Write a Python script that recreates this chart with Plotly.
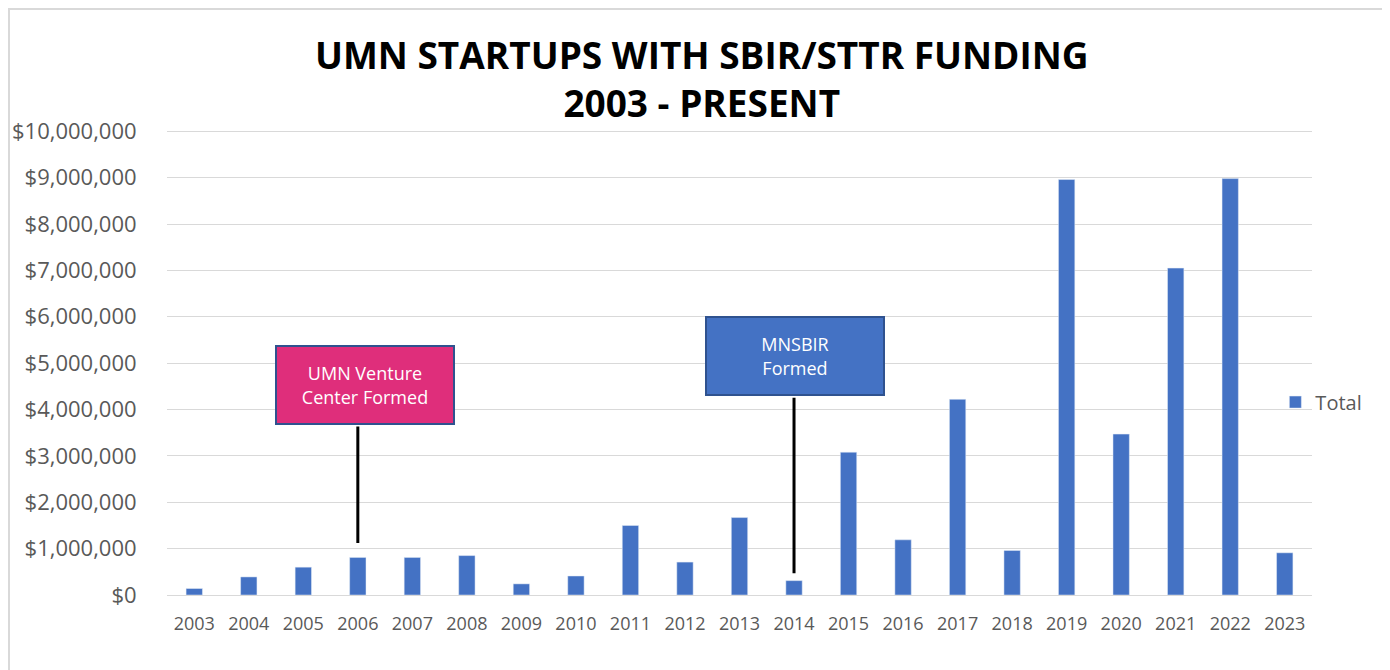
import plotly.graph_objects as go

years = [str(y) for y in range(2003, 2024)]
totals = [140000, 390000, 600000, 810000, 810000, 850000, 240000, 410000, 1500000,
          710000, 1670000, 310000, 3080000, 1190000, 4220000, 960000, 8960000,
          3470000, 7050000, 8980000, 910000]
y_ticks = list(range(0, 11000000, 1000000))
y_labels = ["$0"] + ["${:,}".format(v) for v in y_ticks[1:]]

title_lines = ["UMN STARTUPS WITH SBIR/STTR FUNDING", "2003 - PRESENT"]

callouts = [
    dict(year="2006", y=1120000, text="UMN Venture<br>Center Formed", bg="#DF2E7B",
         ay=-118, box_y=3.67e6, dx=7),
    dict(year="2014", y=470000, text="MNSBIR<br>Formed", bg="#4472C4",
         ay=-177, box_y=4.29e6, dx=1),
]

# page has an 8px body margin, so the figure is sized/margined to compensate
W, H = 1382, 662
L, R, T, B = 159, 78, 121, 75
PW, PH = W - L - R, H - T - B

fig = go.Figure()
fig.add_trace(go.Bar(x=years, y=totals, name="Total", marker=dict(color="#4472C4"),
                     showlegend=True))

for c in callouts:
    xi = years.index(c["year"])
    # connector line
    fig.add_annotation(x=xi, y=c["y"], xref="x", yref="y", text="",
                       showarrow=True, arrowhead=0, arrowwidth=3, arrowcolor="black",
                       ax=0, ay=c["ay"], standoff=0, startstandoff=0)
    # label box
    fig.add_annotation(x=xi, y=c["box_y"], xref="x", yref="y", text=c["text"],
                       showarrow=False, xshift=c["dx"], yanchor="bottom", xanchor="center",
                       bgcolor=c["bg"], bordercolor="#2F528F", borderwidth=2,
                       width=174, height=74, align="center", valign="middle",
                       font=dict(family="Open Sans", size=18, color="white"))

fig.add_shape(type="rect", xref="paper", yref="paper",
              x0=-(L - 1) / PW, x1=(PW + R - 3) / PW, y0=-0.4, y1=(PH + T - 1) / PH,
              line=dict(color="#D9D9D9", width=2), fillcolor="rgba(0,0,0,0)", layer="below")

fig.update_layout(
    width=W, height=H,
    margin=dict(l=L, r=R, t=T, b=B, autoexpand=False),
    paper_bgcolor="white", plot_bgcolor="white",
    title=dict(text="<br>".join(title_lines), x=0.502, xanchor="center",
               y=1 - 60.5 / H, yanchor="middle",
               font=dict(family="Open Sans", size=37, color="black", weight="bold")),
    bargap=0.7,
    xaxis=dict(type="category", range=[-0.5, 20.5], autorange=False,
               showgrid=False, showline=False, ticks="outside", ticklen=12,
               tickcolor="rgba(0,0,0,0)",
               tickfont=dict(family="Open Sans", size=18, color="#595959")),
    yaxis=dict(range=[0, 10050000], autorange=False, tickvals=y_ticks, ticktext=y_labels,
               showgrid=True, gridcolor="#D9D9D9", gridwidth=1, zeroline=True,
               zerolinecolor="#D9D9D9", zerolinewidth=1, ticks="outside", ticklen=25,
               tickcolor="rgba(0,0,0,0)",
               tickfont=dict(family="Open Sans", size=22, color="#595959")),
    legend=dict(x=0.968, xanchor="left", y=0.414, yanchor="middle",
                font=dict(family="Open Sans", size=20, color="#595959"),
                itemwidth=30, bgcolor="rgba(0,0,0,0)"),
    font=dict(family="Open Sans"),
)

fig.write_html("out.html")
